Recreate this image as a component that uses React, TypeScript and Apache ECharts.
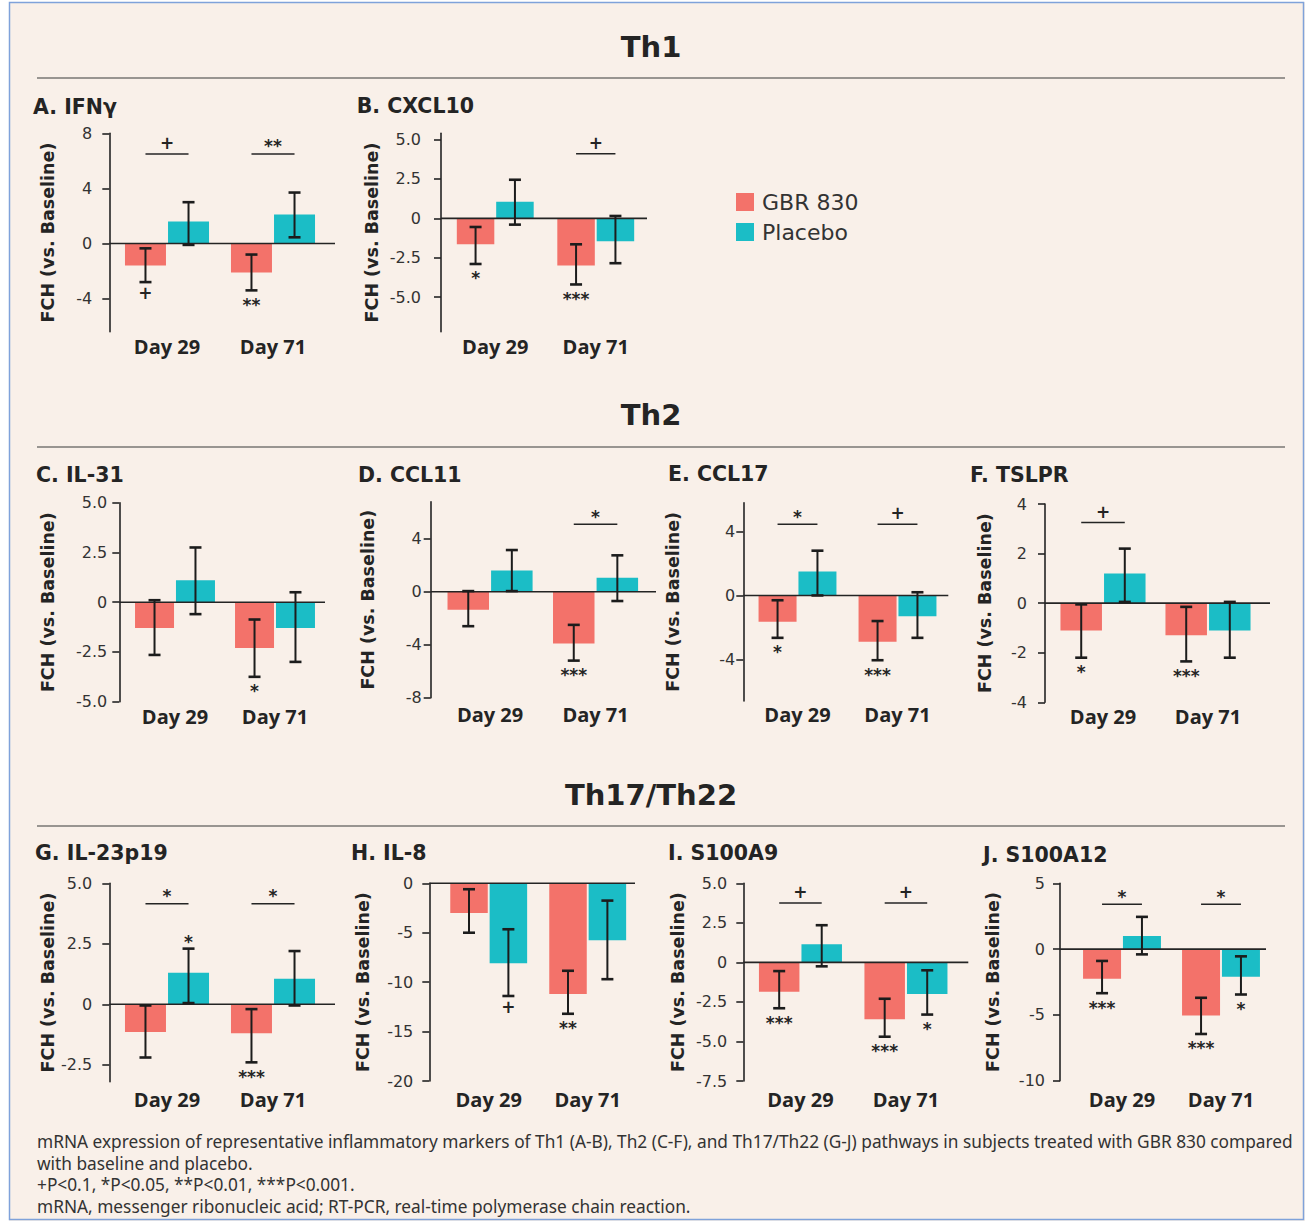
import React, { useEffect, useRef } from "react";
import * as echarts from "echarts";

// ---------------- data ----------------
const categories = ["Day 29", "Day 71"];
const seriesNames = ["GBR 830", "Placebo"];

// A. IFNγ
const ifngGbr = [-1.6, -2.1];
const ifngGbrErr = [[-2.8, -0.35], [-3.4, -0.8]];
const ifngPlacebo = [1.6, 2.1];
const ifngPlaceboErr = [[-0.1, 3.0], [0.45, 3.7]];
const ifngTicks = [-4, 0, 4, 8];
const ifngBrackets = [[0, 6.5, "+"], [1, 6.5, "**"]];
const ifngMarks = [[0, 0, "low", "+"], [1, 0, "low", "**"]];

// B. CXCL10
const cxcl10Gbr = [-1.65, -3.0];
const cxcl10GbrErr = [[-2.9, -0.55], [-4.2, -1.65]];
const cxcl10Placebo = [1.05, -1.45];
const cxcl10PlaceboErr = [[-0.4, 2.45], [-2.85, 0.15]];
const cxcl10Ticks = [-5, -2.5, 0, 2.5, 5];
const cxcl10Brackets = [[1, 4.1, "+"]];
const cxcl10Marks = [[0, 0, "low", "*"], [1, 0, "low", "***"]];

// C. IL-31
const il31Gbr = [-1.3, -2.3];
const il31GbrErr = [[-2.65, 0.1], [-3.75, -0.87]];
const il31Placebo = [1.1, -1.3];
const il31PlaceboErr = [[-0.6, 2.75], [-3.0, 0.5]];
const il31Ticks = [-5, -2.5, 0, 2.5, 5];
const il31Brackets: any[] = [];
const il31Marks = [[1, 0, "low", "*"]];

// D. CCL11
const ccl11Gbr = [-1.35, -3.9];
const ccl11GbrErr = [[-2.6, 0.05], [-5.2, -2.5]];
const ccl11Placebo = [1.6, 1.05];
const ccl11PlaceboErr = [[0.05, 3.15], [-0.7, 2.75]];
const ccl11Ticks = [-8, -4, 0, 4];
const ccl11Brackets = [[1, 5.1, "*"]];
const ccl11Marks = [[1, 0, "low", "***"]];

// E. CCL17
const ccl17Gbr = [-1.65, -2.9];
const ccl17GbrErr = [[-2.65, -0.3], [-4.05, -1.6]];
const ccl17Placebo = [1.5, -1.3];
const ccl17PlaceboErr = [[0.0, 2.8], [-2.65, 0.2]];
const ccl17Ticks = [-4, 0, 4];
const ccl17Brackets = [[0, 4.45, "*"], [1, 4.45, "+"]];
const ccl17Marks = [[0, 0, "low", "*"], [1, 0, "low", "***"]];

// F. TSLPR
const tslprGbr = [-1.1, -1.3];
const tslprGbrErr = [[-2.2, -0.05], [-2.35, -0.15]];
const tslprPlacebo = [1.2, -1.1];
const tslprPlaceboErr = [[0.05, 2.2], [-2.2, 0.05]];
const tslprTicks = [-4, -2, 0, 2, 4];
const tslprBrackets = [[0, 3.25, "+"]];
const tslprMarks = [[0, 0, "low", "*"], [1, 0, "low", "***"]];

// G. IL-23p19
const il23Gbr = [-1.15, -1.2];
const il23GbrErr = [[-2.2, -0.05], [-2.4, -0.2]];
const il23Placebo = [1.3, 1.05];
const il23PlaceboErr = [[0.05, 2.3], [-0.05, 2.2]];
const il23Ticks = [-2.5, 0, 2.5, 5];
const il23Brackets = [[0, 4.15, "*"], [1, 4.15, "*"]];
const il23Marks = [[0, 1, "high", "*"], [1, 0, "low", "***"]];

// H. IL-8
const il8Gbr = [-3.0, -11.2];
const il8GbrErr = [[-5.0, -0.6], [-13.2, -8.85]];
const il8Placebo = [-8.1, -5.75];
const il8PlaceboErr = [[-11.4, -4.65], [-9.7, -1.75]];
const il8Ticks = [-20, -15, -10, -5, 0];
const il8Brackets: any[] = [];
const il8Marks = [[0, 1, "low", "+"], [1, 0, "low", "**"]];

// I. S100A9
const s100a9Gbr = [-1.85, -3.6];
const s100a9GbrErr = [[-2.9, -0.55], [-4.7, -2.3]];
const s100a9Placebo = [1.15, -2.0];
const s100a9PlaceboErr = [[-0.25, 2.35], [-3.3, -0.5]];
const s100a9Ticks = [-7.5, -5, -2.5, 0, 2.5, 5];
const s100a9Brackets = [[0, 3.75, "+"], [1, 3.75, "+"]];
const s100a9Marks = [[0, 0, "low", "***"], [1, 0, "low", "***"], [1, 1, "low", "*"]];

// J. S100A12
const s100a12Gbr = [-2.25, -5.05];
const s100a12GbrErr = [[-3.35, -0.9], [-6.45, -3.7]];
const s100a12Placebo = [1.0, -2.1];
const s100a12PlaceboErr = [[-0.4, 2.45], [-3.45, -0.55]];
const s100a12Ticks = [-10, -5, 0, 5];
const s100a12Brackets = [[0, 3.4, "*"], [1, 3.4, "*"]];
const s100a12Marks = [[0, 0, "low", "***"], [1, 0, "low", "***"], [1, 1, "low", "*"]];

const sectionTitles = ["Th1", "Th2", "Th17/Th22"];
const footerLines = [
  "mRNA expression of representative inflammatory markers of Th1 (A-B), Th2 (C-F), and Th17/Th22 (G-J) pathways in subjects treated with GBR 830 compared",
  "with baseline and placebo.",
  "+P<0.1, *P<0.05, **P<0.01, ***P<0.001.",
  "mRNA, messenger ribonucleic acid; RT-PCR, real-time polymerase chain reaction.",
];
const yAxisName = "FCH (vs. Baseline)";

// ---------------- panels ----------------
const panels = [
  { title: "A. IFNγ", gbr: ifngGbr, gbrErr: ifngGbrErr, plc: ifngPlacebo, plcErr: ifngPlaceboErr, ticks: ifngTicks, min: -6.4, max: 8, dec: 0, brackets: ifngBrackets, marks: ifngMarks },
  { title: "B. CXCL10", gbr: cxcl10Gbr, gbrErr: cxcl10GbrErr, plc: cxcl10Placebo, plcErr: cxcl10PlaceboErr, ticks: cxcl10Ticks, min: -7.2, max: 5.4, dec: 1, brackets: cxcl10Brackets, marks: cxcl10Marks },
  { title: "C. IL-31", gbr: il31Gbr, gbrErr: il31GbrErr, plc: il31Placebo, plcErr: il31PlaceboErr, ticks: il31Ticks, min: -5, max: 5, dec: 1, brackets: il31Brackets, marks: il31Marks },
  { title: "D. CCL11", gbr: ccl11Gbr, gbrErr: ccl11GbrErr, plc: ccl11Placebo, plcErr: ccl11PlaceboErr, ticks: ccl11Ticks, min: -8, max: 6.8, dec: 0, brackets: ccl11Brackets, marks: ccl11Marks },
  { title: "E. CCL17", gbr: ccl17Gbr, gbrErr: ccl17GbrErr, plc: ccl17Placebo, plcErr: ccl17PlaceboErr, ticks: ccl17Ticks, min: -6.6, max: 5.8, dec: 0, brackets: ccl17Brackets, marks: ccl17Marks },
  { title: "F. TSLPR", gbr: tslprGbr, gbrErr: tslprGbrErr, plc: tslprPlacebo, plcErr: tslprPlaceboErr, ticks: tslprTicks, min: -4, max: 4, dec: 0, brackets: tslprBrackets, marks: tslprMarks },
  { title: "G. IL-23p19", gbr: il23Gbr, gbrErr: il23GbrErr, plc: il23Placebo, plcErr: il23PlaceboErr, ticks: il23Ticks, min: -3.2, max: 5, dec: 1, brackets: il23Brackets, marks: il23Marks },
  { title: "H. IL-8", gbr: il8Gbr, gbrErr: il8GbrErr, plc: il8Placebo, plcErr: il8PlaceboErr, ticks: il8Ticks, min: -20, max: 0, dec: 0, brackets: il8Brackets, marks: il8Marks },
  { title: "I. S100A9", gbr: s100a9Gbr, gbrErr: s100a9GbrErr, plc: s100a9Placebo, plcErr: s100a9PlaceboErr, ticks: s100a9Ticks, min: -7.5, max: 5, dec: 1, brackets: s100a9Brackets, marks: s100a9Marks },
  { title: "J. S100A12", gbr: s100a12Gbr, gbrErr: s100a12GbrErr, plc: s100a12Placebo, plcErr: s100a12PlaceboErr, ticks: s100a12Ticks, min: -10, max: 5, dec: 0, brackets: s100a12Brackets, marks: s100a12Marks },
];

// layout (pixels)
const layouts = [
  { axisX: 109.3, gridL: 114, gridR: 326, top: 133.3, bottom: 331.7, zeroR: 335, barW: 41, nameX: 48, titleX: 33, titleY: 106.5, labelY: 346.7, labelMargin: 17 },
  { axisX: 441, gridL: 445, gridR: 646, top: 133.3, bottom: 331.7, zeroR: 647, barW: 37.5, nameX: 371.7, titleX: 356.7, titleY: 106, labelY: 346, labelMargin: 20 },
  { axisX: 119.3, gridL: 125, gridR: 325, top: 502.7, bottom: 701.7, zeroR: 325, barW: 39, nameX: 48.3, titleX: 36, titleY: 475, labelY: 716.7, labelMargin: 12 },
  { axisX: 430.7, gridL: 437.3, gridR: 648.3, top: 501.7, bottom: 697.7, zeroR: 656, barW: 41.5, nameX: 368.3, titleX: 358, titleY: 475, labelY: 714.3, labelMargin: 9 },
  { axisX: 743.3, gridL: 747.5, gridR: 947.5, top: 502.7, bottom: 701, zeroR: 948.3, barW: 38, nameX: 673.3, titleX: 668, titleY: 474, labelY: 714.3, labelMargin: 8 },
  { axisX: 1045, gridL: 1050.5, gridR: 1260.5, top: 504, bottom: 702.3, zeroR: 1270, barW: 41.5, nameX: 985, titleX: 970, titleY: 475, labelY: 716.7, labelMargin: 18 },
  { axisX: 109.3, gridL: 114, gridR: 326, top: 883.3, bottom: 1081.7, zeroR: 335, barW: 41, nameX: 48.3, titleX: 35, titleY: 853, labelY: 1099.3, labelMargin: 17 },
  { axisX: 429.3, gridL: 439.2, gridR: 637.2, top: 883.3, bottom: 1081, zeroR: 635, barW: 37.5, nameX: 363.3, titleX: 351, titleY: 853, labelY: 1099.3, labelMargin: 16 },
  { axisX: 743.3, gridL: 747.7, gridR: 958.7, top: 883.3, bottom: 1081, zeroR: 968.3, barW: 40.5, nameX: 678.3, titleX: 668, titleY: 853, labelY: 1099.3, labelMargin: 16 },
  { axisX: 1060, gridL: 1072.5, gridR: 1270.5, top: 883.3, bottom: 1080.7, zeroR: 1266, barW: 38, nameX: 993.3, titleX: 983, titleY: 855, labelY: 1099.3, labelMargin: 15 },
];

const sectionLayout = [
  { y: 47, ruleY: 78 },
  { y: 415, ruleY: 447 },
  { y: 795, ruleY: 826 },
];
const footerLayout = { x: 37, ys: [1141, 1163, 1184.5, 1206] };

const RED = "#f3726a";
const TEAL = "#1bbdc6";
const INK = "#242424";
const BG = "#f9f0e9";

function fmt(v: number, dec: number) {
  if (v === 0) return "0";
  return v.toFixed(dec);
}

function txt(x: number, y: number, text: string, font: string, align = "center", rotation = 0, fill = INK) {
  return {
    type: "text",
    x,
    y,
    rotation,
    silent: true,
    style: { text, font, fill, textAlign: align, textVerticalAlign: "middle", align, verticalAlign: "middle" },
  };
}

function buildOption() {
  const grid: any[] = [];
  const xAxis: any[] = [];
  const yAxis: any[] = [];
  const series: any[] = [];
  const graphic: any[] = [];

  // frame
  graphic.push({ type: "rect", shape: { x: 0, y: 0, width: 9, height: 1221 }, style: { fill: "#ffffff" }, silent: true });
  graphic.push({ type: "rect", shape: { x: 0, y: 0, width: 1305, height: 2 }, style: { fill: "#ffffff" }, silent: true });
  graphic.push({ type: "rect", shape: { x: 9.5, y: 2.5, width: 1294, height: 1217 }, style: { fill: "none", stroke: "#7fa2da", lineWidth: 1.5 }, silent: true });

  sectionTitles.forEach((t, i) => {
    const s = sectionLayout[i];
    graphic.push(txt(651, s.y, t, 'bold 29px "DejaVu Sans"'));
    graphic.push({ type: "line", silent: true, shape: { x1: 37, y1: s.ruleY, x2: 1285, y2: s.ruleY }, style: { stroke: "#3a3a3a", lineWidth: 1.2 } });
  });

  footerLines.forEach((t, i) => {
    graphic.push(txt(footerLayout.x, footerLayout.ys[i], t, '17.3px "Noto Sans"', "left", 0, "#333333"));
  });

  panels.forEach((p, i) => {
    const L = layouts[i];
    const off = (L.barW * 1.05) / 2;
    grid.push({ left: L.gridL, top: L.top, width: L.gridR - L.gridL, height: L.bottom - L.top, containLabel: false, outerBoundsMode: "none" });
    xAxis.push({
      type: "category",
      gridIndex: i,
      data: categories,
      position: "bottom",
      axisLine: { show: false, onZero: false },
      axisTick: { show: false },
      splitLine: { show: false },
      axisLabel: { fontFamily: "Open Sans", fontWeight: "bold", fontSize: 20, color: INK, margin: L.labelY - L.bottom - 10 },
    });
    yAxis.push({
      type: "value",
      gridIndex: i,
      min: p.min,
      max: p.max,
      offset: L.gridL - L.axisX,
      splitLine: { show: false },
      axisLine: { show: true, onZero: false, lineStyle: { color: INK, width: 1.6 } },
      axisTick: { show: true, length: 7, customValues: p.ticks, lineStyle: { color: INK, width: 1.6 } },
      axisLabel: { customValues: p.ticks, formatter: (v: number) => fmt(v, p.dec), fontFamily: "DejaVu Sans", fontSize: 16, color: "#333333", margin: L.labelMargin },
    });

    series.push({ type: "bar", name: seriesNames[0], xAxisIndex: i, yAxisIndex: i, data: p.gbr, barWidth: L.barW, barGap: "5%", itemStyle: { color: RED }, silent: true });
    series.push({ type: "bar", name: seriesNames[1], xAxisIndex: i, yAxisIndex: i, data: p.plc, barWidth: L.barW, barGap: "5%", itemStyle: { color: TEAL }, silent: true });

    // zero line
    series.push({
      type: "custom",
      name: "zero" + i,
      xAxisIndex: i,
      yAxisIndex: i,
      data: [[0, 0]],
      clip: false,
      silent: true,
      z: 5,
      renderItem: (params: any, api: any) => {
        const y = api.coord([0, 0])[1];
        return { type: "line", shape: { x1: L.axisX, y1: y, x2: L.zeroR, y2: y }, style: { stroke: INK, lineWidth: 1.6 } };
      },
    });

    // error bars
    const errData: any[] = [];
    [p.gbrErr, p.plcErr].forEach((errs, s) => {
      errs.forEach((e, c) => errData.push([c, e[0], e[1], s]));
    });
    series.push({
      type: "custom",
      name: "err" + i,
      xAxisIndex: i,
      yAxisIndex: i,
      data: errData,
      clip: false,
      silent: true,
      z: 6,
      renderItem: (params: any, api: any) => {
        const c = api.value(0);
        const s = api.value(3);
        const cx = api.coord([c, 0])[0] + (s === 0 ? -off : off);
        const yLo = api.coord([c, api.value(1)])[1];
        const yHi = api.coord([c, api.value(2)])[1];
        const st = { stroke: "#1c1c1c", lineWidth: 2 };
        const cap = { stroke: "#1c1c1c", lineWidth: 2.6 };
        return {
          type: "group",
          children: [
            { type: "line", shape: { x1: cx, y1: yLo, x2: cx, y2: yHi }, style: st },
            { type: "line", shape: { x1: cx - 6, y1: yLo, x2: cx + 6, y2: yLo }, style: cap },
            { type: "line", shape: { x1: cx - 6, y1: yHi, x2: cx + 6, y2: yHi }, style: cap },
          ],
        };
      },
    });

    // significance brackets
    if (p.brackets.length) {
      series.push({
        type: "custom",
        name: "br" + i,
        xAxisIndex: i,
        yAxisIndex: i,
        data: p.brackets.map((b: any) => [b[0], b[1]]),
        clip: false,
        silent: true,
        z: 6,
        renderItem: (params: any, api: any) => {
          const c = api.value(0);
          const pt = api.coord([c, api.value(1)]);
          const label = p.brackets[params.dataIndex][2] as string;
          const dy = label.indexOf("*") >= 0 ? 3.5 : 0;
          return {
            type: "group",
            children: [
              { type: "line", shape: { x1: pt[0] - off, y1: pt[1], x2: pt[0] + off, y2: pt[1] }, style: { stroke: INK, lineWidth: 1.5 } },
              {
                type: "text",
                x: pt[0],
                y: pt[1] - 11 + dy,
                style: { text: label, font: 'bold 17px "DejaVu Sans"', fill: INK, textAlign: "center", textVerticalAlign: "middle", align: "center", verticalAlign: "middle" },
              },
            ],
          };
        },
      });
    }

    // per-bar significance marks
    if (p.marks.length) {
      series.push({
        type: "custom",
        name: "mk" + i,
        xAxisIndex: i,
        yAxisIndex: i,
        data: p.marks.map((m: any) => {
          const errs = m[1] === 0 ? p.gbrErr : p.plcErr;
          const e = errs[m[0]];
          return [m[0], m[1], m[2] === "low" ? e[0] : e[1]];
        }),
        clip: false,
        silent: true,
        z: 6,
        renderItem: (params: any, api: any) => {
          const c = api.value(0);
          const s = api.value(1);
          const m = p.marks[params.dataIndex];
          const label = m[3] as string;
          const pt = api.coord([c, api.value(2)]);
          const cx = pt[0] + (s === 0 ? -off : off);
          const dy = (m[2] === "low" ? 11 : -10) + (label.indexOf("*") >= 0 ? 3.5 : 0);
          return {
            type: "text",
            x: cx,
            y: pt[1] + dy,
            style: { text: label, font: 'bold 17px "DejaVu Sans"', fill: INK, textAlign: "center", textVerticalAlign: "middle", align: "center", verticalAlign: "middle" },
          };
        },
      });
    }

    graphic.push(txt(L.titleX, L.titleY, p.title, 'bold 20.5px "DejaVu Sans"', "left"));
    graphic.push(txt(L.nameX, (L.top + L.bottom) / 2, yAxisName, 'bold 17.5px "DejaVu Sans"', "center", Math.PI / 2));
  });

  return {
    animation: false,
    backgroundColor: BG,
    legend: {
      data: seriesNames,
      orient: "vertical",
      left: 731,
      top: 186,
      itemWidth: 18,
      itemHeight: 18,
      itemGap: 8,
      icon: "rect",
      selectedMode: false,
      textStyle: { fontFamily: "DejaVu Sans", fontSize: 22, color: "#333333", padding: [0, 0, 0, 3] },
    },
    grid,
    xAxis,
    yAxis,
    series,
    graphic: { elements: graphic },
  };
}

export default function App() {
  const ref = useRef<HTMLDivElement>(null);
  useEffect(() => {
    const chart = echarts.init(ref.current as HTMLDivElement, null, { renderer: "svg" });
    chart.setOption(buildOption() as any);
    return () => chart.dispose();
  }, []);
  return <div ref={ref} style={{ position: "fixed", left: 0, top: 0, width: 1305, height: 1221 }} />;
}
